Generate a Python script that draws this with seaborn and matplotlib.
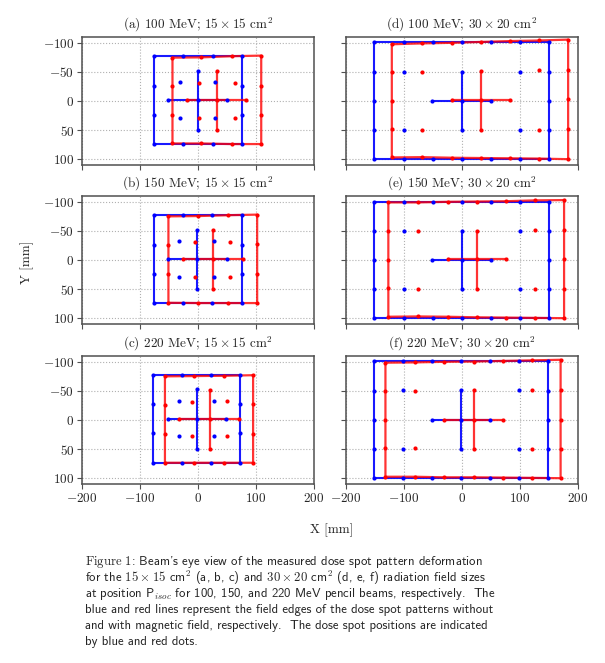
import matplotlib
matplotlib.use("Agg")
import matplotlib.pyplot as plt
import pandas as pd
import seaborn as sns

# ================= DATA (mm) =================
titles = [r"(a) 100 MeV; $15\times15$ cm$^2$", r"(d) 100 MeV; $30\times20$ cm$^2$",
          r"(b) 150 MeV; $15\times15$ cm$^2$", r"(e) 150 MeV; $30\times20$ cm$^2$",
          r"(c) 220 MeV; $15\times15$ cm$^2$", r"(f) 220 MeV; $30\times20$ cm$^2$"]

# edge spots: column x, y of top row, y of bottom row, y of left / right side spots
# cross: [x of vertical, y of horizontal, top, bottom, left, right]
# ---- (a) 100 MeV 15x15
a_blue_cols = [-76, -26, 25, 75]
a_blue_top = [-78, -78, -78, -78]
a_blue_bot = [74, 74, 74, 74]
a_blue_left = [-26, 24]
a_blue_right = [-26, 24]
a_blue_cross = [0, -1, -52, 49, -51, 50]
a_blue_in_x = [-31, 30, -31, 30]
a_blue_in_y = [-32, -32, 29, 29]
a_red_cols = [-44, 6, 58, 109]
a_red_top = [-74.5, -75, -77, -78]
a_red_bot = [73, 73, 74, 74]
a_red_left = [-25, 24]
a_red_right = [-26.5, 24]
a_red_cross = [32, -1, -52, 49, -19, 83]
a_red_in_x = [2, 63, 2, 63]
a_red_in_y = [-30.5, -31.5, 29, 29]

# ---- (b) 150 MeV 15x15
b_blue_cols = [-76.5, -26, 24, 75]
b_blue_top = [-78, -78, -78, -78]
b_blue_bot = [74, 74, 74, 74]
b_blue_left = [-26.5, 23.5]
b_blue_right = [-26.5, 23.5]
b_blue_cross = [-2, -2, -52, 49, -51, 49.5]
b_blue_in_x = [-32, 28, -32, 28]
b_blue_in_y = [-32, -32, 28.5, 28.5]
b_red_cols = [-51, 0, 52, 102]
b_red_top = [-75, -75.5, -77, -78]
b_red_bot = [73.5, 74, 74, 74]
b_red_left = [-25, 24]
b_red_right = [-27, 24]
b_red_cross = [25, -1, -52, 49, -26, 77]
b_red_in_x = [-6, 56, -6, 56]
b_red_in_y = [-31, -31, 28.5, 28.5]

# ---- (c) 220 MeV 15x15
c_blue_cols = [-78, -27, 23, 73]
c_blue_top = [-78, -78, -78, -78]
c_blue_bot = [73.5, 73.5, 73.5, 73.5]
c_blue_left = [-27, 23]
c_blue_right = [-27, 23]
c_blue_cross = [-2, -1.5, -53, 49, -52, 49]
c_blue_in_x = [-32, 28, -32, 28]
c_blue_in_y = [-32, -32, 28, 28]
c_red_cols = [-57, -6.5, 44.5, 95]
c_red_top = [-75, -75.5, -76, -77]
c_red_bot = [73.5, 73.5, 73.5, 73.5]
c_red_left = [-26, 24]
c_red_right = [-27, 23.5]
c_red_cross = [20, -1.5, -52, 49, -32, 70]
c_red_in_x = [-11, 50, -11, 50]
c_red_in_y = [-31, -32, 28, 28]

# ---- (d) 100 MeV 30x20
d_blue_cols = [-151, -100, -50, 0, 50, 100, 149.5]
d_blue_top = [-101, -101, -101, -101, -101, -101, -101]
d_blue_bot = [100, 100, 100, 100, 100, 100, 100]
d_blue_left = [-50, 0, 50]
d_blue_right = [-50, 0, 50]
d_blue_cross = [0, 0, -50, 50, -51, 50]
d_blue_in_x = [-100.5, 100, -100.5, 100]
d_blue_in_y = [-50.5, -50, 50, 50]
d_red_cols = [-121, -69, -17.5, 32.5, 82.5, 133, 183]
d_red_top = [-97.5, -99, -100, -101.5, -103, -104, -105.5]
d_red_bot = [97, 96.5, 97.5, 98, 98.5, 99, 100]
d_red_left = [-49, 0, 48]
d_red_right = [-54, -3, 48]
d_red_cross = [32.5, -1, -52, 49, -17.5, 82.5]
d_red_in_x = [-69, 133, -69, 133]
d_red_in_y = [-49.5, -53, 49, 49]

# ---- (e) 150 MeV 30x20
e_blue_cols = [-151, -100, -50, 0, 50, 100, 149.5]
e_blue_top = [-100.5, -100.5, -100.5, -100.5, -100.5, -100.5, -100.5]
e_blue_bot = [100, 100, 100, 100, 100, 100, 100]
e_blue_left = [-50, 0, 50]
e_blue_right = [-50, 0, 50]
e_blue_cross = [0, 0, -50, 50, -51, 50]
e_blue_in_x = [-100.5, 99.5, -100.5, 99.5]
e_blue_in_y = [-50, -50, 50, 50]
e_red_cols = [-127, -76, -25, 25, 75, 125, 176]
e_red_top = [-99, -99, -100, -100.5, -101, -102.5, -103]
e_red_bot = [97.5, 97, 97.5, 98.5, 99, 99.5, 100]
e_red_left = [-50, 0, 48.5]
e_red_right = [-51, -1, 49.5]
e_red_cross = [25, -1, -50, 50, -25, 75]
e_red_in_x = [-76, 125, -76, 125]
e_red_in_y = [-50, -51, 49, 50]

# ---- (f) 220 MeV 30x20
f_blue_cols = [-152, -101, -51, -1, 49, 99, 149]
f_blue_top = [-101, -101, -101, -101, -101, -101, -101]
f_blue_bot = [100, 100, 100, 100, 100, 100, 100]
f_blue_left = [-50, 0, 50]
f_blue_right = [-50, 0, 50]
f_blue_cross = [-1, 0, -51, 50, -52, 49]
f_blue_in_x = [-102, 99, -102, 99]
f_blue_in_y = [-51, -51.5, 50, 50]
f_red_cols = [-132, -81, -31, 20, 70, 120, 170]
f_red_top = [-98.5, -99, -100, -100.5, -101.5, -102.5, -103.5]
f_red_bot = [97.5, 97.5, 98.5, 98.5, 99, 99.5, 100]
f_red_left = [-50, 0, 48.5]
f_red_right = [-51.5, 0, 49.5]
f_red_cross = [20, 0, -51, 50, -31, 70]
f_red_in_x = [-81, 120, -81, 120]
f_red_in_y = [-50, -51.5, 48.5, 50]

caption = [
    r"$\mathrm{Figure\ 1}$: Beam's eye view of the measured dose spot pattern deformation",
    r"for the $15\times15$ cm$^2$ (a, b, c) and $30\times20$ cm$^2$ (d, e, f) radiation field sizes",
    r"at position P$_{isoc}$ for 100, 150, and 220 MeV pencil beams, respectively.  The",
    r"blue and red lines represent the field edges of the dose spot patterns without",
    r"and with magnetic field, respectively.  The dose spot positions are indicated",
    r"by blue and red dots.",
]


# ================= BUILD TABLES =================
def pattern(panel, color, cols, top, bot, left, right, cross, in_x, in_y):
    lines, dots = [], []
    outline = [(x, y) for x, y in zip(cols, top)]
    outline += [(cols[-1], y) for y in right]
    outline += [(x, y) for x, y in zip(cols[::-1], bot[::-1])]
    outline += [(cols[0], y) for y in left[::-1]]
    for x, y in outline:
        dots.append((panel, color, x, y))
    outline.append(outline[0])
    cx, cy, vt, vb, hl, hr = cross
    segs = {"edge": outline,
            "vert": [(cx, vt), (cx, cy), (cx, vb)],
            "horz": [(hl, cy), (cx, cy), (hr, cy)]}
    for name, pts in segs.items():
        for k, (x, y) in enumerate(pts):
            lines.append((panel, color, f"{color}_{name}", k, x, y))
    for x, y in [(cx, vt), (cx, vb), (hl, cy), (hr, cy), (cx, cy)]:
        dots.append((panel, color, x, y))
    for x, y in zip(in_x, in_y):
        dots.append((panel, color, x, y))
    return lines, dots


all_lines, all_dots = [], []
g = globals()
for p in "abcdef":
    for col in ["blue", "red"]:
        args = [g[f"{p}_{col}_{k}"] for k in
                ["cols", "top", "bot", "left", "right", "cross", "in_x", "in_y"]]
        ln, dt = pattern(p, col, *args)
        all_lines += ln
        all_dots += dt

df_lines = pd.DataFrame(all_lines, columns=["panel", "color", "seg", "order", "x", "y"])
df_dots = pd.DataFrame(all_dots, columns=["panel", "color", "x", "y"])

# ================= PLOT =================
sns.set_style("ticks")
plt.rcParams["font.family"] = ["cmr10", "DejaVu Serif"]
plt.rcParams["mathtext.fontset"] = "cm"
plt.rcParams["axes.formatter.use_mathtext"] = True
plt.rcParams["axes.unicode_minus"] = True

W, H = 605, 663
fig = plt.figure(figsize=(W / 100, H / 100), dpi=100)

col_x = [82, 346]
row_top = [37, 196, 356]
aw, ah = 232, 128
order = ["a", "d", "b", "e", "c", "f"]
styles = {"blue": dict(color="#0000ff", alpha=0.9, lw=1.5),
          "red": dict(color="#ff0000", alpha=0.8, lw=1.6)}

for i, p in enumerate(order):
    r, c = divmod(i, 2)
    ax = fig.add_axes([col_x[c] / W, 1 - (row_top[r] + ah) / H, aw / W, ah / H])
    for col in ["blue", "red"]:
        sub = df_lines[(df_lines.panel == p) & (df_lines.color == col)]
        sns.lineplot(data=sub, x="x", y="y", units="seg", estimator=None, sort=False,
                     ax=ax, color=styles[col]["color"], alpha=styles[col]["alpha"],
                     lw=styles[col]["lw"], legend=False)
        sdot = df_dots[(df_dots.panel == p) & (df_dots.color == col)]
        sns.scatterplot(data=sdot, x="x", y="y", ax=ax, color=styles[col]["color"],
                        s=9, linewidth=0, legend=False, zorder=4)
    ax.set_xlim(-200, 200)
    ax.set_ylim(110, -110)
    ax.set_xticks([-200, -100, 0, 100, 200])
    ax.set_yticks([-100, -50, 0, 50, 100])
    ax.grid(True, ls=":", color="#b0b0b0", lw=0.8)
    ax.set_axisbelow(True)
    for s in ax.spines.values():
        s.set_color("#505050")
        s.set_linewidth(1.1)
    ax.tick_params(direction="out", length=3.5, width=0.8, color="#505050",
                   labelsize=9.5, pad=2)
    ax.set_xlabel("")
    ax.set_ylabel("")
    if c == 1:
        ax.set_yticklabels([])
    if r < 2:
        ax.set_xticklabels([])
    ax.set_title(titles[i], fontsize=9.5, pad=6)

fig.text(27 / W, 1 - 262 / H, "Y [mm]", rotation=90, ha="center", va="center", fontsize=9.5)
fig.text(332 / W, 1 - 530 / H, "X [mm]", ha="center", va="center", fontsize=9.5)

for k, line in enumerate(caption):
    fig.text(85 / W, 1 - (562 + 16 * k) / H, line, ha="left", va="center",
             fontsize=9.2, family=["cmss10", "DejaVu Sans"])

fig.savefig("out.png", dpi=100)
